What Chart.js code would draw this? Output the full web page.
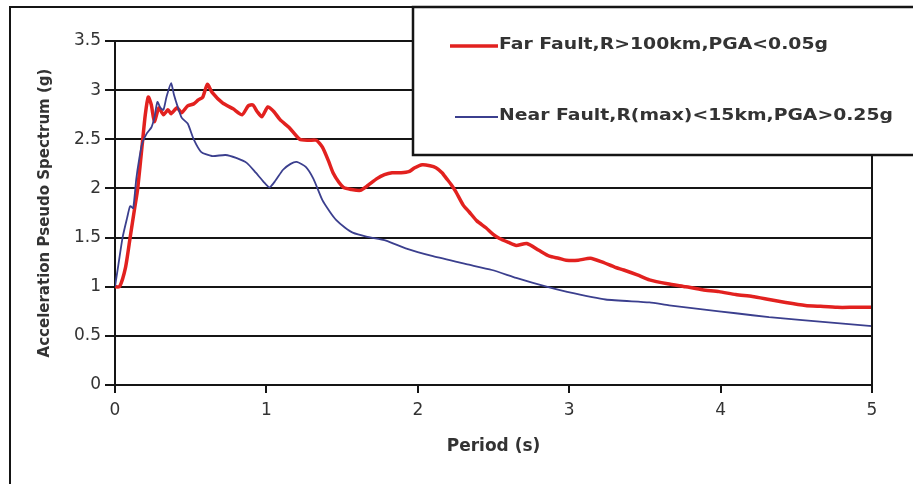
<!DOCTYPE html>
<html>
<head>
<meta charset="utf-8">
<script src="https://cdn.jsdelivr.net/npm/chart.js@4/dist/chart.umd.min.js"></script>
<style>
  html, body { margin: 0; padding: 0; background: #ffffff; }
  #wrap { width: 913px; height: 484px; }
</style>
</head>
<body>
<div id="wrap"><canvas id="c" width="913" height="484"></canvas></div>
<script>
// Response spectra: period (s) against spectral acceleration (g)
const farLabel = 'Far Fault,R>100km,PGA<0.05g';
const farPeriods = [0, 0.03, 0.07, 0.1, 0.13, 0.15, 0.18, 0.2, 0.22, 0.24, 0.26, 0.29, 0.32, 0.35, 0.37, 0.41, 0.44, 0.48, 0.52, 0.55, 0.58, 0.61, 0.64, 0.71, 0.78, 0.84, 0.88, 0.91, 0.94, 0.97, 1.01, 1.05, 1.09, 1.15, 1.22, 1.28, 1.33, 1.37, 1.41, 1.44, 1.48, 1.51, 1.56, 1.62, 1.67, 1.73, 1.78, 1.83, 1.89, 1.94, 1.98, 2.03, 2.08, 2.12, 2.16, 2.19, 2.22, 2.25, 2.3, 2.34, 2.39, 2.45, 2.5, 2.54, 2.6, 2.65, 2.72, 2.8, 2.87, 2.93, 2.98, 3.06, 3.14, 3.22, 3.3, 3.36, 3.45, 3.53, 3.65, 3.77, 3.88, 3.99, 4.1, 4.21, 4.32, 4.43, 4.56, 4.66, 4.77, 4.88, 5.0];
const farAccel = [1.0, 1.0, 1.2, 1.5, 1.8, 2.0, 2.45, 2.75, 2.93, 2.85, 2.68, 2.82, 2.75, 2.8, 2.76, 2.82, 2.77, 2.84, 2.86, 2.9, 2.93, 3.06, 2.98, 2.87, 2.81, 2.75, 2.84, 2.85, 2.78, 2.73, 2.83, 2.78, 2.7, 2.62, 2.5, 2.49, 2.49, 2.42, 2.28, 2.16, 2.06, 2.01, 1.99, 1.98, 2.03, 2.1, 2.14, 2.16, 2.16, 2.17, 2.21, 2.24, 2.23, 2.21, 2.16, 2.1, 2.04, 1.97, 1.83, 1.76, 1.67, 1.6, 1.53, 1.49, 1.45, 1.42, 1.44, 1.37, 1.31, 1.29, 1.27, 1.27, 1.29, 1.25, 1.2, 1.17, 1.12, 1.07, 1.03, 1.0, 0.97, 0.95, 0.92, 0.9, 0.87, 0.84, 0.81, 0.8, 0.79, 0.79, 0.79];

const nearLabel = 'Near Fault,R(max)<15km,PGA>0.25g';
const nearPeriods = [0, 0.02, 0.05, 0.08, 0.1, 0.12, 0.14, 0.16, 0.18, 0.21, 0.24, 0.26, 0.28, 0.3, 0.32, 0.34, 0.37, 0.39, 0.41, 0.44, 0.48, 0.52, 0.57, 0.64, 0.73, 0.8, 0.87, 0.93, 0.98, 1.02, 1.06, 1.11, 1.16, 1.2, 1.26, 1.31, 1.37, 1.42, 1.46, 1.52, 1.57, 1.66, 1.79, 1.92, 2.1, 2.32, 2.49, 2.65, 2.85, 2.98, 3.24, 3.53, 3.66, 3.88, 4.1, 4.32, 4.54, 4.77, 5.0];
const nearAccel = [1.0, 1.2, 1.5, 1.7, 1.82, 1.8, 2.09, 2.3, 2.46, 2.56, 2.62, 2.72, 2.88, 2.82, 2.8, 2.93, 3.07, 2.95, 2.85, 2.72, 2.66, 2.5, 2.37, 2.33, 2.34, 2.31, 2.26, 2.16, 2.07, 2.01, 2.08, 2.19, 2.25, 2.27, 2.22, 2.1, 1.88, 1.76, 1.68, 1.6, 1.55, 1.51, 1.47, 1.39, 1.31, 1.23, 1.17, 1.09, 1.0, 0.95, 0.87, 0.84, 0.81, 0.77, 0.73, 0.69, 0.66, 0.63, 0.6];

const xTicks = [0, 1, 2, 3, 4, 5];
const yTicks = [0, 0.5, 1, 1.5, 2, 2.5, 3, 3.5];

const xTitle = 'Period (s)';
const yTitle = 'Acceleration Pseudo Spectrum (g)';

const RED = '#e2211f';
const BLUE = '#3b3f8e';
const INK = '#151515';
const TEXT = '#333333';
const FONT = "'DejaVu Sans', 'Liberation Sans', sans-serif";

function toPoints(xs, ys) {
  return xs.map((x, i) => ({ x: x, y: ys[i] }));
}

// Outer frame, right edge of the plot area and the boxed legend
const framePlugin = {
  id: 'frame',
  afterDraw(chart) {
    const ctx = chart.ctx;
    const area = chart.chartArea;
    ctx.save();
    ctx.strokeStyle = INK;

    // right edge of plot area
    ctx.lineWidth = 2;
    ctx.beginPath();
    ctx.moveTo(area.right, area.top);
    ctx.lineTo(area.right, area.bottom);
    ctx.stroke();

    // outer frame (left and top edges)
    ctx.lineWidth = 2;
    ctx.beginPath();
    ctx.moveTo(10, chart.height);
    ctx.lineTo(10, 7);
    ctx.lineTo(chart.width, 7);
    ctx.stroke();

    // legend box
    const bx = 413, by = 7, bw = chart.width - bx + 4, bh = 148;
    ctx.fillStyle = '#ffffff';
    ctx.fillRect(bx, by, bw, bh);
    ctx.lineWidth = 2.5;
    ctx.strokeRect(bx, by, bw, bh);

    const entries = chart.data.datasets.map(ds => ({
      label: ds.label, color: ds.borderColor, width: ds.borderWidth
    }));
    const rows = [45, 116];
    const targets = [329, 394];
    entries.forEach((e, i) => {
      const y = rows[i];
      ctx.strokeStyle = e.color;
      ctx.lineWidth = e.width;
      ctx.beginPath();
      ctx.moveTo(i === 0 ? 450 : 455, y + 1);
      ctx.lineTo(498, y + 1);
      ctx.stroke();

      ctx.font = "bold 16px " + FONT;
      ctx.fillStyle = TEXT;
      ctx.textBaseline = 'middle';
      ctx.textAlign = 'left';
      const w = ctx.measureText(e.label).width;
      const sx = targets[i] / w;
      ctx.save();
      ctx.translate(499, y);
      ctx.scale(sx, 1);
      ctx.fillText(e.label, 0, 0);
      ctx.restore();
    });
    ctx.restore();
  }
};

new Chart(document.getElementById('c'), {
  type: 'line',
  data: {
    datasets: [
      {
        label: farLabel,
        data: toPoints(farPeriods, farAccel),
        borderColor: RED,
        borderWidth: 3.5,
        pointRadius: 0,
        tension: 0.2,
        borderJoinStyle: 'round',
        borderCapStyle: 'round',
        order: 2
      },
      {
        label: nearLabel,
        data: toPoints(nearPeriods, nearAccel),
        borderColor: BLUE,
        borderWidth: 1.8,
        pointRadius: 0,
        tension: 0.2,
        borderJoinStyle: 'round',
        order: 1
      }
    ]
  },
  options: {
    responsive: false,
    animation: false,
    layout: { padding: { left: 0, right: 41, top: 41, bottom: 0 } },
    plugins: {
      legend: { display: false },
      tooltip: { enabled: false }
    },
    scales: {
      x: {
        type: 'linear',
        min: 0,
        max: 5,
        afterBuildTicks(scale) { scale.ticks = xTicks.map(v => ({ value: v })); },
        afterFit(scale) { scale.height = 99; },
        grid: { drawOnChartArea: false, drawTicks: true, tickLength: 8, color: INK, lineWidth: 2 },
        border: { display: true, color: INK, width: 2 },
        ticks: { color: TEXT, padding: 7, font: { family: FONT, size: 17 }, maxRotation: 0, callback: v => String(v) },
        title: {
          display: true,
          text: xTitle,
          color: TEXT,
          font: { family: FONT, size: 17, weight: 'bold', lineHeight: 1.2 },
          padding: { top: 0, bottom: 27 }
        }
      },
      y: {
        type: 'linear',
        min: 0,
        max: 3.5,
        afterBuildTicks(scale) { scale.ticks = yTicks.map(v => ({ value: v })); },
        afterFit(scale) { scale.width = 115; },
        grid: { color: INK, lineWidth: 2, drawTicks: true, tickLength: 10 },
        border: { display: true, color: INK, width: 2 },
        ticks: { color: TEXT, padding: 4, font: { family: FONT, size: 17 }, callback: v => String(v) },
        title: {
          display: true,
          text: yTitle,
          color: TEXT,
          font: { family: FONT, size: 15, weight: 'bold', lineHeight: 1.2 },
          padding: { top: 36, bottom: 0 }
        }
      }
    }
  },
  plugins: [framePlugin]
});
</script>
</body>
</html>
